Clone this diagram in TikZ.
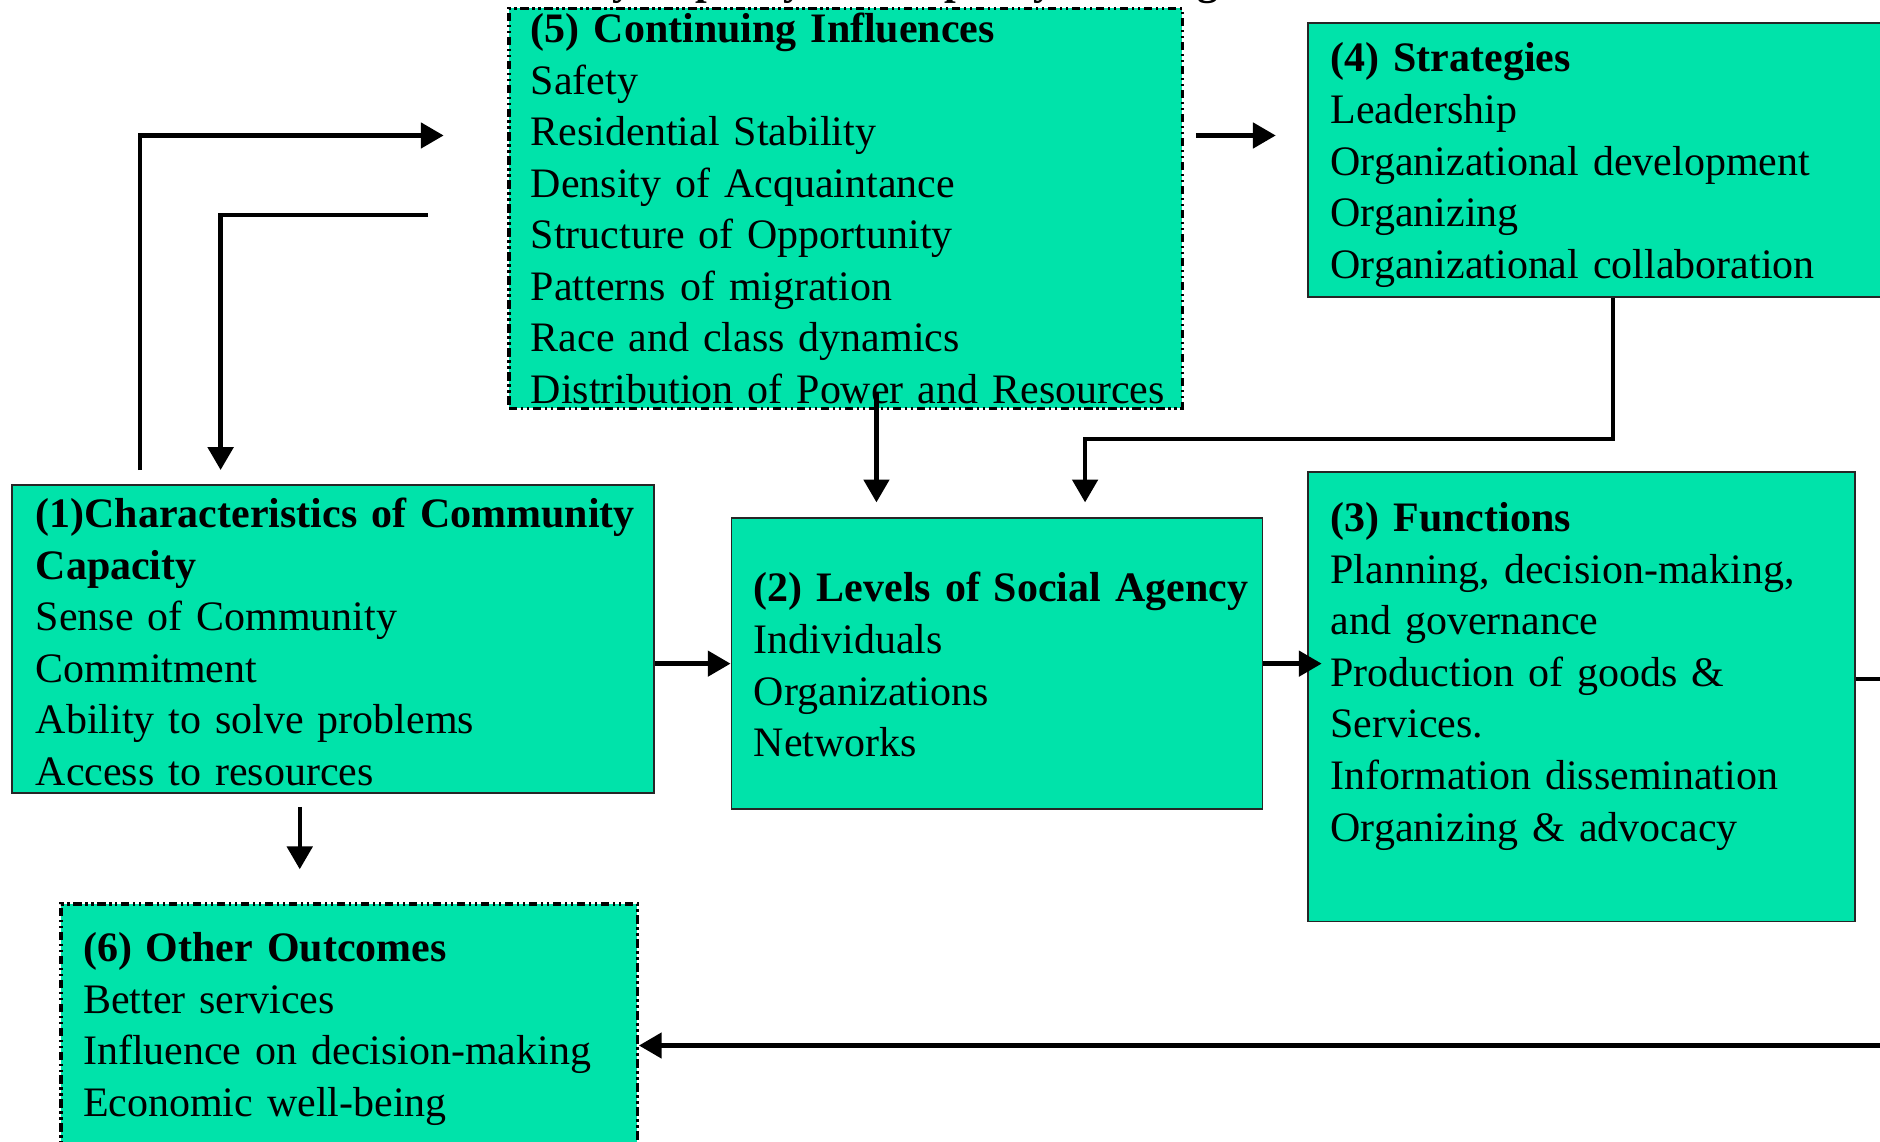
\documentclass[tikz,border=0pt]{standalone}
\usepackage{fontspec}
\setmainfont{Liberation Serif}
\usetikzlibrary{arrows.meta,fit}

\definecolor{boxgreen}{RGB}{0,227,170}

\tikzset{
  greenbox/.style={fill=boxgreen,draw=black!85,line width=0.7pt,inner sep=0pt},
  dashbox/.style={greenbox,draw=black,line width=1.4pt,
    dash pattern=on 3.5pt off 1.5pt on 1pt off 1.5pt on 1pt off 1.5pt},
  boxtext/.style={anchor=base west,inner sep=0pt,text width=300pt,align=left,
    font=\fontsize{17.5}{21.5}\selectfont},
}

\begin{document}
\begin{tikzpicture}[x=0.5pt,y=-0.5pt,line width=1.8pt,
    >={Triangle[length=9.5pt,width=10.5pt]}]
   \clip (0,0) rectangle (1568,952);
   \useasboundingbox (0,0) rectangle (1568,952);

   % heading, cut by the top edge
   \node (title) [anchor=base,inner sep=0pt,font=\bfseries\fontsize{17.5}{21.5}\selectfont]
      at (683,-4.5) {Community Capacity and Capacity Building};

   % boxes
   \node (infl) [dashbox,fit={(424.5,7) (986,340.5)}] {};
   \node (strat) [greenbox,fit={(1091,19) (1600,247.5)}] {};
   \node (chars) [greenbox,fit={(10,404.5) (545.5,661.5)}] {};
   \node (levels) [greenbox,fit={(610,432) (1053,675)}] {};
   \node (funcs) [greenbox,fit={(1091,393.5) (1547,768.5)}] {};
   \node (outc) [dashbox,fit={(51,754) (531.5,990)}] {};

   % texts
   \node (infltext) [boxtext] at (441,35.5) {\textbf{(5) Continuing Influences}\\Safety\\Residential Stability\\Density of Acquaintance\\Structure of Opportunity\\Patterns of migration\\Race and class dynamics\\Distribution of Power and Resources};
   \node (strattext) [boxtext] at (1108,60) {\textbf{(4) Strategies}\\Leadership\\Organizational development\\Organizing\\Organizational collaboration};
   \node (charstext) [boxtext] at (28,440) {\textbf{(1)Characteristics of Community}\\\textbf{Capacity}\\Sense of Community\\Commitment\\Ability to solve problems\\Access to resources};
   \node (levelstext) [boxtext] at (627,502) {\textbf{(2) Levels of Social Agency}\\Individuals\\Organizations\\Networks};
   \node (funcstext) [boxtext] at (1108,443.5) {\textbf{(3) Functions}\\Planning, decision-making,\\and governance\\Production of goods \&\\Services.\\Information dissemination\\Organizing \& advocacy};
   \node (outctext) [boxtext] at (67.5,802) {\textbf{(6) Other Outcomes}\\Better services\\Influence on decision-making\\Economic well-being};

   % connectors
   \coordinate (charsup) at (117,392);
   \coordinate (inflin) at (370,113);
   \coordinate (inflout) at (357,179.5);
   \coordinate (charsin) at (184,392);
   \coordinate (inflright) at (997.5,113);
   \coordinate (stratin) at (1064,113);
   \coordinate (levelsin) at (905,419);
   \coordinate (levelstop) at (731,419);
   \coordinate (outcin) at (250,725);
   \draw[->] (charsup) |- (inflin);
   \draw[->] (inflout) -| (charsin);
   \draw[->] (inflright) -- (stratin);
   \draw[->] (strat.south) |- (levelsin |- 0,366) -- (levelsin);
   \draw[->] (levelstop |- 0,328) -- (levelstop);
   \draw[->] (chars.east |- levels.west) -- (levels.west);
   \draw[->] (levels.east) -- ([xshift=6pt]funcs.west |- levels.east);
   \draw[->] (outcin |- 0,673) -- (outcin);
   \draw[->] (funcs.east |- 0,566.5) -- ++(80,0) |- (outc.east);
  \end{tikzpicture}
\end{document}
